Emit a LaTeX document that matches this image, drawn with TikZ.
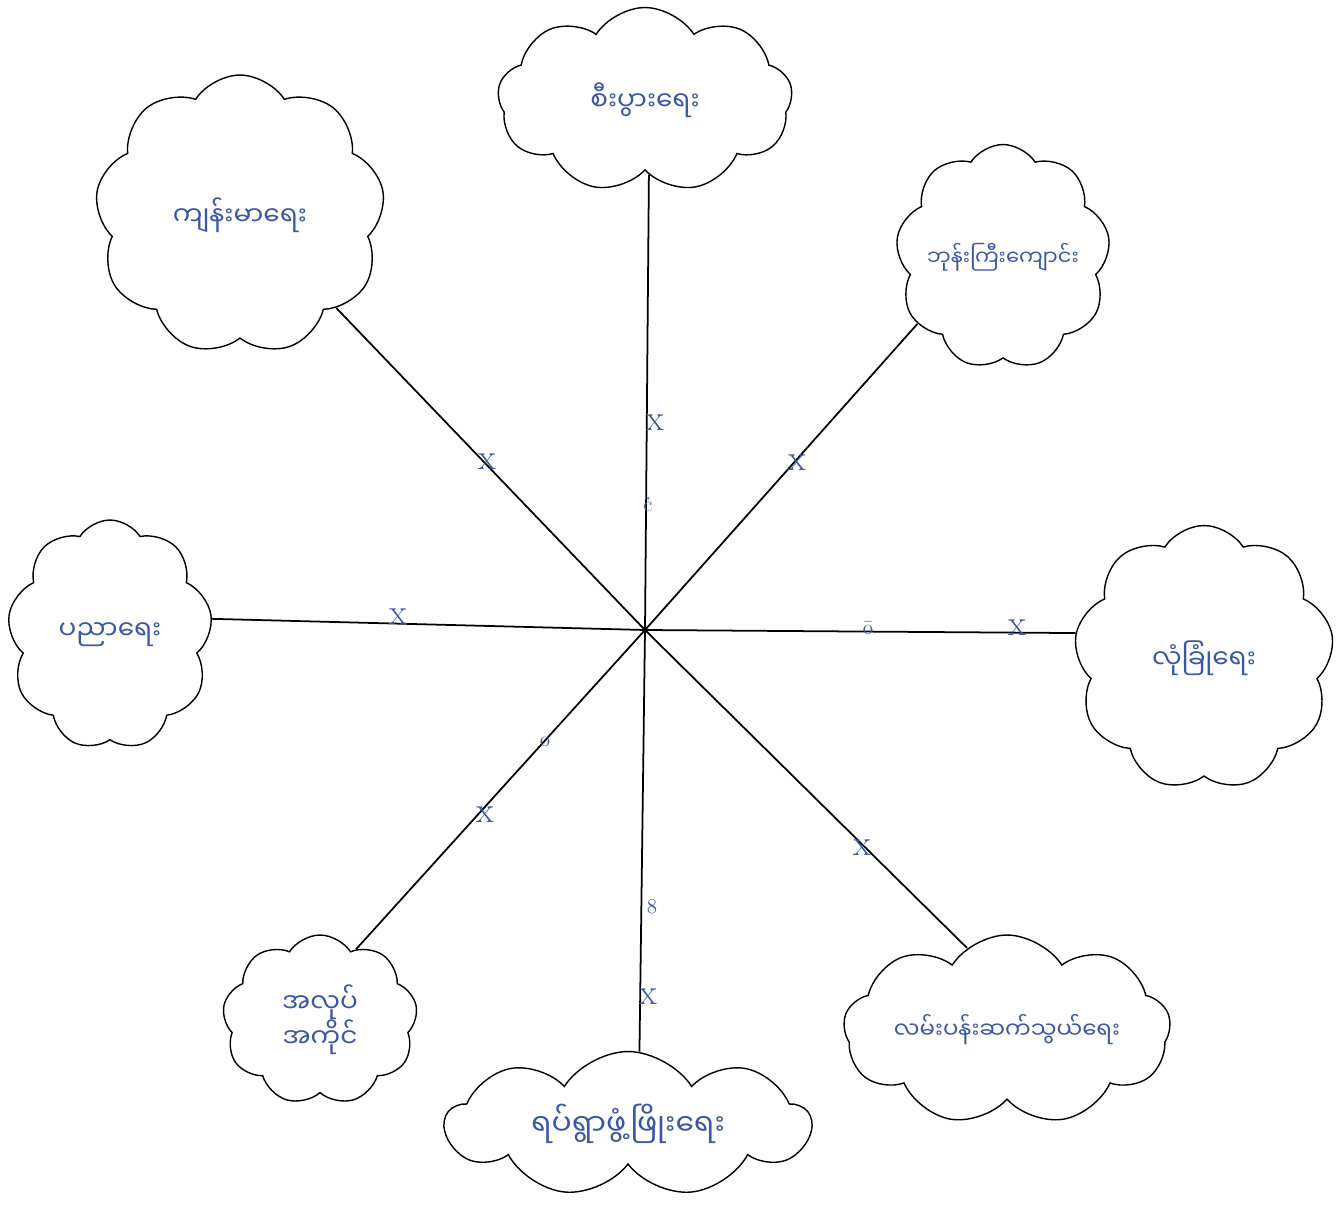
\documentclass[tikz,border=0pt]{standalone}
\usepackage{fontspec}
\newfontfamily\mmfont[Script=Myanmar]{Noto Sans Myanmar UI}
\usetikzlibrary{shapes.symbols}
\definecolor{penblue}{HTML}{3A56A8}

\begin{document}
\begin{tikzpicture}[
  x=0.02cm, y=-0.02cm,
  topic/.style={cloud, cloud puffs=9, cloud puff arc=115, cloud ignores aspect, draw, line width=0.8pt, align=center, text=penblue, font=\mmfont\fontsize{15}{20}\selectfont},
  spoke/.style={line width=1pt},
  tally/.style={text=penblue, font=\huge, inner sep=0pt}
]
\useasboundingbox (0,0) rectangle (1342,1213);

% clouds round the hub
\node[topic, minimum width=5.9cm, minimum height=3.7cm] (Top) at (645,100) {စီးပွားရေး};
\node[topic, minimum width=5.8cm, minimum height=5.6cm] (Health) at (240,215) {ကျန်းမာရေး};
\node[topic, minimum width=4.2cm, minimum height=4.5cm, font=\mmfont\fontsize{12}{16}\selectfont, inner sep=1pt] (Monastery) at (1003,257) {ဘုန်းကြီးကျောင်း};
\node[topic, minimum width=4.1cm, minimum height=4.6cm] (Education) at (110,635) {ပညာရေး};
\node[topic, minimum width=5.2cm, minimum height=5.3cm] (Security) at (1204,658) {လုံခြုံရေး};
\node[topic, minimum width=6.1cm, minimum height=3.8cm, font=\mmfont\fontsize{13}{18}\selectfont] (Transport) at (1007,1030) {လမ်းပန်းဆက်သွယ်ရေး};
\node[topic, minimum width=7.3cm, minimum height=2.9cm, font=\mmfont\fontsize{17}{20}\selectfont] (Community) at (628,1124) {ရပ်ရွာဖွံ့ဖြိုးရေး};
\node[topic, minimum width=3.9cm, minimum height=3.4cm] (Work) at (320,1020) {အလုပ်\\အကိုင်};

% hub
\coordinate (Hub) at (645,630);

% spokes
\draw[spoke] (Hub) -- (Top.-87);
\draw[spoke] (Hub) -- (Health.-44);
\draw[spoke] (Hub) -- (Monastery.-142);
\draw[spoke] (Hub) -- (Education.9);
\draw[spoke] (Hub) -- (Security.169);
\draw[spoke] (Hub) -- (Transport.116);
\draw[spoke] (Hub) -- (Community.81);
\draw[spoke] (Hub) -- (Work.63);

% marks on the spokes
\node[tally] (xTop) at (655,423) {x};
\node[tally] (xHealth) at (487,462) {x};
\node[tally] (xMonastery) at (797,463) {x};
\node[tally] (xEducation) at (398,617) {x};
\node[tally] (xSecurity) at (1017,628) {x};
\node[tally] (xTransport) at (862,848) {x};
\node[tally] (xCommunity) at (648,997) {x};
\node[tally] (xWork) at (485,815) {x};
\node[tally, font=\large] (oTop) at (648,505) {ċ};
\node[tally, font=\large] (oSecurity) at (868,628) {ō};
\node[tally, font=\large] (oCommunity) at (652,907) {8};
\node[tally, font=\large] (oWork) at (545,742) {o};

\end{tikzpicture}
\end{document}
